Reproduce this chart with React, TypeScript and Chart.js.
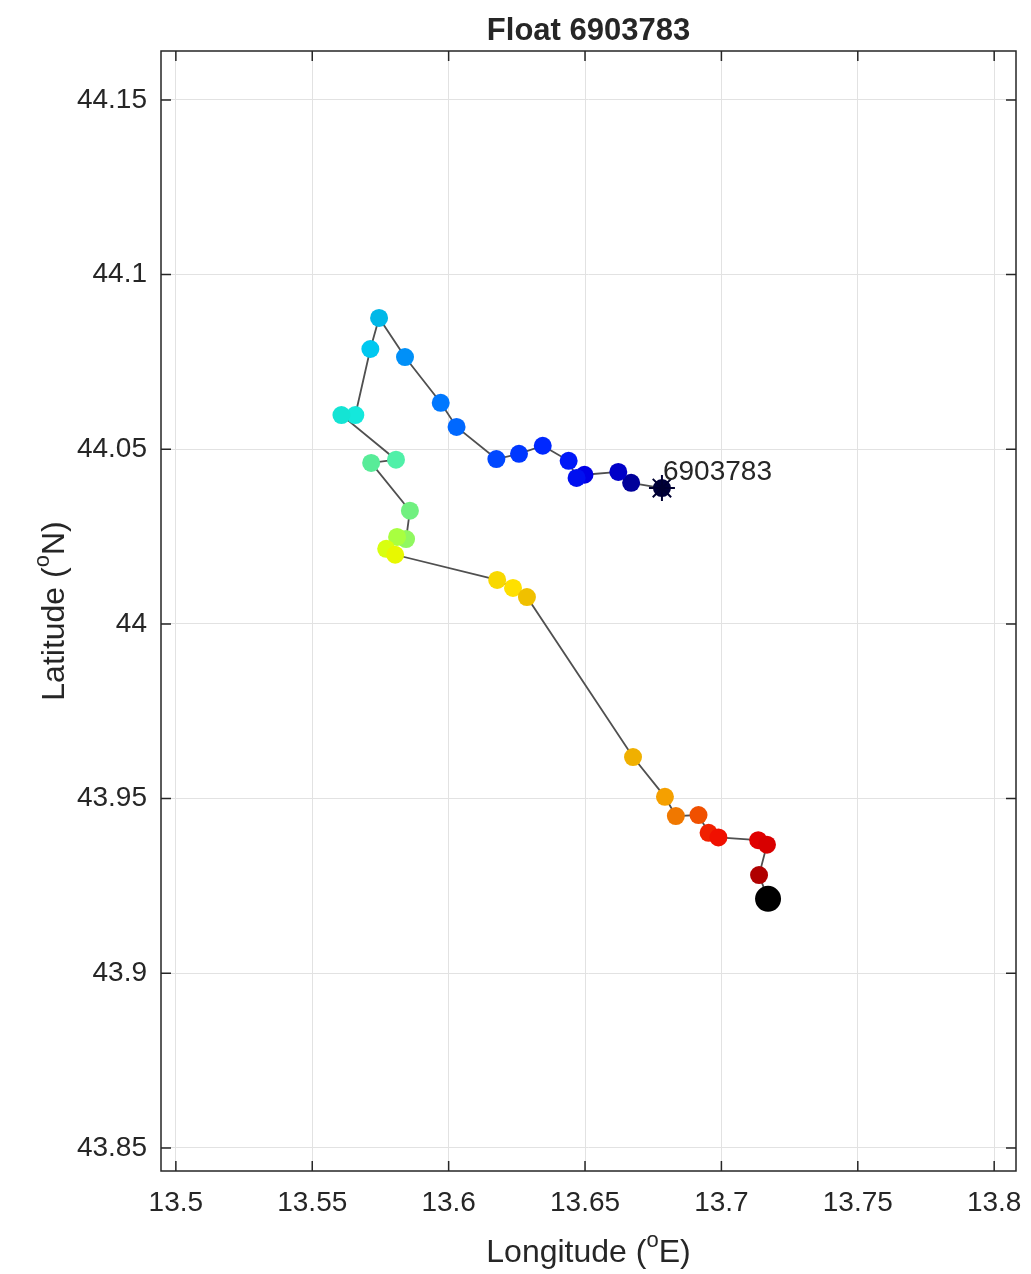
import React, { useEffect, useRef } from 'react';
import { Chart, registerables } from 'chart.js';

Chart.register(...registerables);

const floatId = '6903783';
const titleText = 'Float 6903783';
const xAxisParts = ['Longitude (', 'o', 'E)'];
const yAxisParts = ['Latitude (', 'o', 'N)'];

// track positions, in time order (first = deployment, last = latest)
const longitudes = [
  13.6782, 13.6669, 13.6622, 13.6498, 13.6469, 13.644, 13.6345, 13.6258, 13.6175,
  13.6029, 13.5971, 13.584, 13.5745, 13.5713, 13.5658, 13.5607, 13.5807, 13.5716,
  13.5858, 13.5844, 13.5811, 13.5771, 13.5804, 13.6178, 13.6236, 13.6287, 13.6676,
  13.6793, 13.6833, 13.6916, 13.6953, 13.6989, 13.7135, 13.7167, 13.7138, 13.7171,
];
const latitudes = [
  44.0389, 44.0404, 44.0435, 44.0427, 44.0418, 44.0467, 44.051, 44.0487, 44.0472,
  44.0564, 44.0633, 44.0764, 44.0876, 44.0787, 44.0598, 44.0598, 44.047, 44.0461,
  44.0324, 44.0243, 44.0249, 44.0215, 44.0198, 44.0126, 44.0103, 44.0077, 43.9619,
  43.9505, 43.945, 43.9453, 43.9402, 43.9389, 43.9381, 43.9368, 43.9281, 43.9213,
];
const markerColors = [
  '#00003a', '#00009a', '#0000c8', '#0000e6', '#0010f0', '#0018f8', '#0028ff', '#0038ff', '#0048ff',
  '#0068ff', '#0078ff', '#0090f8', '#00b8e8', '#00c8f0', '#14e8dc', '#14e4d4', '#50f0a8', '#58ec98',
  '#70f080', '#90f860', '#a8ff40', '#d8ff10', '#e8f800', '#f8d800', '#ffe000', '#f0c000', '#f0b000',
  '#f5a000', '#f07800', '#f05000', '#f02000', '#f01000', '#e00000', '#d80000', '#b00000', '#000000',
];

const xTickValues = [13.5, 13.55, 13.6, 13.65, 13.7, 13.75, 13.8];
const xTickLabels = ['13.5', '13.55', '13.6', '13.65', '13.7', '13.75', '13.8'];
const yTickValues = [43.85, 43.9, 43.95, 44, 44.05, 44.1, 44.15];
const yTickLabels = ['43.85', '43.9', '43.95', '44', '44.05', '44.1', '44.15'];
const xLimits = [13.49455, 13.808];
const yLimits = [43.8434, 44.164];

const FONT = '"Liberation Sans", Arial, Helvetica, sans-serif';
const TEXT_COLOR = '#262626';

function drawSupText(ctx: CanvasRenderingContext2D, parts: string[], cx: number, cy: number, size: number) {
  const supSize = Math.round(size * 0.68);
  ctx.font = `${size}px ${FONT}`;
  const w0 = ctx.measureText(parts[0]).width;
  const w2 = ctx.measureText(parts[2]).width;
  ctx.font = `${supSize}px ${FONT}`;
  const w1 = ctx.measureText(parts[1]).width;
  let x = cx - (w0 + w1 + w2) / 2;
  ctx.textAlign = 'left';
  ctx.textBaseline = 'middle';
  ctx.fillStyle = TEXT_COLOR;
  ctx.font = `${size}px ${FONT}`;
  ctx.fillText(parts[0], x, cy);
  x += w0;
  ctx.font = `${supSize}px ${FONT}`;
  ctx.fillText(parts[1], x, cy - size * 0.38);
  x += w1;
  ctx.font = `${size}px ${FONT}`;
  ctx.fillText(parts[2], x, cy);
}

const framePlugin = {
  id: 'matlabFrame',
  afterDraw(chart: any) {
    const ctx: CanvasRenderingContext2D = chart.ctx;
    const { left, right, top, bottom } = chart.chartArea;
    const xs = chart.scales.x;
    const ys = chart.scales.y;
    ctx.save();
    // box
    ctx.strokeStyle = '#262626';
    ctx.lineWidth = 1.5;
    ctx.strokeRect(left, top, right - left, bottom - top);
    // inward ticks
    const tl = 10;
    ctx.beginPath();
    xTickValues.forEach((v) => {
      const px = xs.getPixelForValue(v);
      ctx.moveTo(px, bottom);
      ctx.lineTo(px, bottom - tl);
      ctx.moveTo(px, top);
      ctx.lineTo(px, top + tl);
    });
    yTickValues.forEach((v) => {
      const py = ys.getPixelForValue(v);
      ctx.moveTo(left, py);
      ctx.lineTo(left + tl, py);
      ctx.moveTo(right, py);
      ctx.lineTo(right - tl, py);
    });
    ctx.stroke();
    // x tick labels
    ctx.fillStyle = TEXT_COLOR;
    ctx.font = `28px ${FONT}`;
    ctx.textAlign = 'center';
    ctx.textBaseline = 'middle';
    xTickValues.forEach((v, i) => {
      ctx.fillText(xTickLabels[i], xs.getPixelForValue(v), bottom + 32);
    });
    // title
    const cx = (left + right) / 2;
    const cy = (top + bottom) / 2;
    ctx.font = `bold 31px ${FONT}`;
    ctx.fillText(titleText, cx, 31);
    // axis labels
    drawSupText(ctx, xAxisParts, cx, 1253, 32);
    ctx.save();
    ctx.translate(55, cy);
    ctx.rotate(-Math.PI / 2);
    drawSupText(ctx, yAxisParts, 0, 0, 32);
    ctx.restore();
    // float id annotation at deployment position
    const sx = xs.getPixelForValue(longitudes[0]);
    const sy = ys.getPixelForValue(latitudes[0]);
    ctx.font = `28px ${FONT}`;
    ctx.textAlign = 'left';
    ctx.textBaseline = 'middle';
    ctx.fillStyle = TEXT_COLOR;
    ctx.fillText(floatId, sx + 1, sy - 16);
    ctx.restore();
  },
};

export default function App() {
  const canvasRef = useRef<HTMLCanvasElement | null>(null);

  useEffect(() => {
    if (!canvasRef.current) return;
    const points = longitudes.map((lon, i) => ({ x: lon, y: latitudes[i] }));
    const radii = points.map((_, i) => (i === points.length - 1 ? 13 : 9));
    const chart = new Chart(canvasRef.current, {
      type: 'scatter',
      data: {
        datasets: [
          {
            data: points,
            showLine: true,
            borderColor: '#505050',
            borderWidth: 1.8,
            pointRadius: 0,
            pointHoverRadius: 0,
            order: 3,
          } as any,
          {
            data: points,
            showLine: false,
            pointRadius: radii,
            pointHoverRadius: radii,
            pointBackgroundColor: markerColors,
            pointBorderColor: markerColors,
            pointBorderWidth: 0,
            order: 2,
          } as any,
          {
            data: [points[0]],
            showLine: false,
            pointStyle: 'star',
            pointRadius: 13,
            pointBorderColor: '#000030',
            pointBackgroundColor: '#000030',
            pointBorderWidth: 2,
            order: 1,
          } as any,
        ],
      },
      options: {
        responsive: false,
        animation: false,
        events: [],
        layout: { padding: { top: 51, right: 9, left: 0, bottom: 0 } },
        plugins: {
          legend: { display: false },
          title: { display: false },
          tooltip: { enabled: false },
        },
        scales: {
          x: {
            type: 'linear',
            min: xLimits[0],
            max: xLimits[1],
            afterBuildTicks: (scale: any) => {
              scale.ticks = xTickValues.map((v) => ({ value: v }));
            },
            afterFit: (scale: any) => {
              scale.height = 103;
              scale.paddingLeft = 0;
              scale.paddingRight = 0;
            },
            grid: { color: '#e2e2e2', lineWidth: 1, drawTicks: false },
            border: { display: false },
            ticks: { display: false },
          },
          y: {
            type: 'linear',
            min: yLimits[0],
            max: yLimits[1],
            afterBuildTicks: (scale: any) => {
              scale.ticks = yTickValues.map((v) => ({ value: v }));
            },
            afterFit: (scale: any) => {
              scale.width = 161;
              scale.paddingTop = 0;
              scale.paddingBottom = 0;
            },
            grid: { color: '#e2e2e2', lineWidth: 1, drawTicks: false },
            border: { display: false },
            ticks: {
              padding: 14,
              color: TEXT_COLOR,
              font: { family: FONT, size: 28 },
              autoSkip: false,
              callback: (_v: any, i: number) => yTickLabels[i],
            },
          },
        },
      },
      plugins: [framePlugin],
    } as any);
    return () => chart.destroy();
  }, []);

  return (
    <div style={{ position: 'absolute', left: 0, top: 0, width: 1031, height: 1274, background: '#fff' }}>
      <canvas ref={canvasRef} width={1031} height={1274} style={{ display: 'block' }} />
    </div>
  );
}
